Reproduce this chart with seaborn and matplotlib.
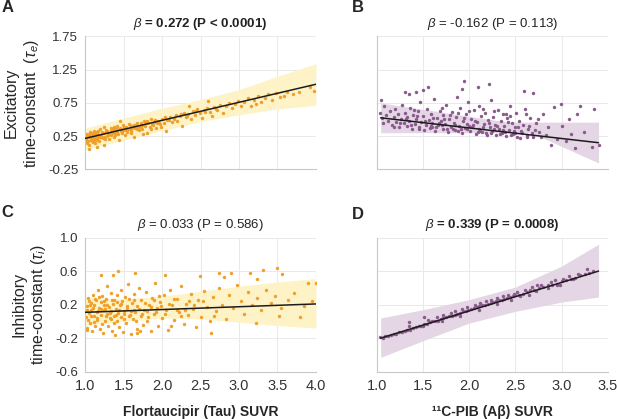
import numpy as np
import pandas as pd
import seaborn as sns
import matplotlib.pyplot as plt

# ---- panel A: tau SUVR vs excitatory time-constant ----
a_x = [1.01, 1.02, 1.03, 1.04, 1.05, 1.06, 1.07, 1.08, 1.09, 1.10, 1.11, 1.12, 1.13, 1.14, 1.15, 1.16, 1.17,
       1.18, 1.19, 1.20, 1.22, 1.23, 1.24, 1.25, 1.27, 1.28, 1.30, 1.31, 1.33, 1.34, 1.35, 1.37, 1.38, 1.40,
       1.41, 1.43, 1.44, 1.46, 1.47, 1.49, 1.50, 1.52, 1.53, 1.55, 1.57, 1.58, 1.60, 1.62, 1.63, 1.65, 1.67,
       1.69, 1.70, 1.72, 1.74, 1.76, 1.78, 1.80, 1.82, 1.84, 1.86, 1.88, 1.90, 1.92, 1.95, 1.97, 2.00, 2.02,
       2.05, 2.07, 2.10, 2.13, 2.15, 2.18, 2.20, 2.23, 2.26, 2.28, 2.31, 2.34, 2.37, 2.40, 2.43, 2.46, 2.49,
       2.52, 2.55, 2.58, 2.62, 2.65, 2.68, 2.72, 2.75, 2.79, 2.83, 2.87, 2.91, 2.95, 2.99, 3.03, 3.07, 3.12,
       3.16, 3.20, 3.25, 3.29, 3.34, 3.38, 3.43, 3.48, 3.53, 3.58, 3.62, 3.70, 3.78, 3.92, 3.97, 1.05, 1.15,
       1.25, 1.45, 1.75, 2.35, 2.60, 3.22, 1.02, 1.04, 1.06, 1.08, 1.10, 1.12, 1.14, 1.16, 1.18, 1.21, 1.26,
       1.29, 1.32, 1.36, 1.39, 1.42, 1.48, 1.54, 1.59, 1.64, 1.68, 1.73, 1.79, 1.85, 1.93, 1.98,
       1.01, 1.03, 1.05, 1.07, 1.09, 1.11, 1.13, 1.15, 1.17, 1.19, 1.22, 1.24, 1.27, 1.30, 1.33, 1.36, 1.39,
       1.42, 1.45, 1.48, 1.51, 1.55, 1.58, 1.61, 1.65, 1.69, 1.73, 1.77, 1.81, 1.87, 1.91, 1.96, 2.04, 2.09,
       2.16, 2.24, 2.32, 2.44, 2.56, 2.70]
a_y = [0.20, 0.15, 0.28, 0.23, 0.12, 0.31, 0.19, 0.25, 0.17, 0.29, 0.22, 0.33, 0.14, 0.26, 0.21, 0.30, 0.24,
       0.18, 0.35, 0.27, 0.31, 0.22, 0.11, 0.29, 0.34, 0.25, 0.30, 0.20, 0.37, 0.27, 0.32, 0.24, 0.39, 0.30,
       0.35, 0.28, 0.19, 0.36, 0.32, 0.41, 0.34, 0.27, 0.38, 0.31, 0.43, 0.36, 0.33, 0.40, 0.23, 0.37, 0.45,
       0.39, 0.34, 0.42, 0.36, 0.47, 0.40, 0.30, 0.44, 0.39, 0.50, 0.42, 0.46, 0.37, 0.48, 0.43, 0.51, 0.45,
       0.33, 0.49, 0.54, 0.46, 0.52, 0.57, 0.48, 0.55, 0.40, 0.60, 0.53, 0.58, 0.50, 0.62, 0.56, 0.66, 0.59,
       0.52, 0.64, 0.68, 0.61, 0.55, 0.69, 0.65, 0.72, 0.60, 0.70, 0.75, 0.67, 0.73, 0.78, 0.70, 0.76, 0.82,
       0.71, 0.80, 0.85, 0.77, 0.83, 0.88, 0.80, 0.90, 0.84, 0.86, 0.92, 0.88, 0.91, 0.99, 0.93, 0.05, 0.08,
       0.38, 0.47, 0.28, 0.70, 0.78, 0.73, 0.26, 0.18, 0.24, 0.30, 0.16, 0.23, 0.31, 0.19, 0.27, 0.24, 0.20,
       0.33, 0.28, 0.35, 0.26, 0.40, 0.29, 0.35, 0.30, 0.41, 0.35, 0.38, 0.45, 0.35, 0.44, 0.39,
       0.25, 0.17, 0.27, 0.21, 0.28, 0.19, 0.29, 0.22, 0.32, 0.23, 0.30, 0.24, 0.31, 0.26, 0.33, 0.29, 0.36,
       0.31, 0.37, 0.33, 0.39, 0.34, 0.41, 0.37, 0.42, 0.38, 0.44, 0.41, 0.47, 0.43, 0.49, 0.45, 0.53, 0.49,
       0.50, 0.58, 0.55, 0.63, 0.61, 0.66]
a_line_x = [1.0, 4.0]
a_line_y = [0.215, 1.03]
a_band_x = [1.0, 1.5, 2.0, 2.5, 3.0, 3.5, 4.0]
a_band_lo = [0.045, 0.19, 0.33, 0.47, 0.57, 0.66, 0.71]
a_band_hi = [0.37, 0.52, 0.67, 0.80, 0.95, 1.15, 1.34]

# ---- panel B: PIB SUVR vs excitatory time-constant ----
b_x = [1.03, 1.05, 1.06, 1.08, 1.10, 1.12, 1.14, 1.16, 1.18, 1.20, 1.21, 1.23, 1.24, 1.26, 1.27, 1.29, 1.30,
       1.32, 1.33, 1.35, 1.36, 1.38, 1.39, 1.41, 1.42, 1.44, 1.45, 1.47, 1.48, 1.50, 1.51, 1.53, 1.54, 1.56,
       1.57, 1.59, 1.60, 1.62, 1.63, 1.65, 1.66, 1.68, 1.69, 1.71, 1.72, 1.74, 1.75, 1.77, 1.78, 1.80, 1.81,
       1.83, 1.84, 1.86, 1.87, 1.89, 1.90, 1.92, 1.93, 1.95, 1.96, 1.98, 1.99, 2.01, 2.02, 2.04, 2.05, 2.07,
       2.08, 2.10, 2.11, 2.13, 2.14, 2.16, 2.17, 2.19, 2.20, 2.22, 2.23, 2.25, 2.26, 2.28, 2.29, 2.31, 2.32,
       2.34, 2.35, 2.37, 2.38, 2.40, 2.41, 2.43, 2.44, 2.46, 2.47, 2.49, 2.51, 2.52, 2.54, 2.56, 2.58, 2.60,
       2.62, 2.64, 2.66, 2.69, 2.72, 2.75, 2.80, 2.83, 1.04, 1.55, 1.50, 1.94, 1.92, 2.21, 1.30, 1.35, 1.42,
       2.59, 2.69, 2.09, 2.99, 3.20, 3.35, 3.17, 2.92, 3.08, 3.24, 3.33, 3.14, 3.40, 2.88, 2.78, 2.85, 2.61,
       1.60, 1.70, 1.82, 1.88, 1.97, 2.03, 2.12, 2.18, 2.27, 2.33, 2.39, 2.45, 2.50, 2.55, 2.63, 2.68, 2.95,
       3.05, 3.00, 3.10,
       1.25, 1.31, 1.37, 1.43, 1.46, 1.52, 1.58, 1.61, 1.64, 1.67, 1.73, 1.76, 1.79, 1.85, 1.91, 1.94, 2.00,
       2.06, 2.09, 2.15, 2.21, 2.24, 2.30, 2.36, 2.42, 2.48, 2.53, 2.57, 2.65, 2.71, 1.18, 1.40, 1.70, 2.00,
       2.27, 2.44, 2.74, 1.88, 2.15, 2.40]
b_y = [0.60, 0.52, 0.45, 0.70, 0.56, 0.48, 0.62, 0.41, 0.54, 0.66, 0.46, 0.58, 0.38, 0.51, 0.72, 0.44, 0.60,
       0.40, 0.53, 0.47, 0.68, 0.36, 0.57, 0.43, 0.50, 0.62, 0.39, 0.76, 0.46, 0.55, 0.34, 0.42, 0.66, 0.49,
       0.37, 0.58, 0.44, 0.81, 0.33, 0.52, 0.41, 0.63, 0.47, 0.36, 0.56, 0.43, 0.72, 0.31, 0.50, 0.39, 0.61,
       0.45, 0.34, 0.53, 0.84, 0.40, 0.68, 0.30, 0.48, 0.37, 0.58, 0.43, 0.76, 0.33, 0.51, 0.41, 0.64, 0.28,
       0.46, 0.36, 0.70, 0.55, 0.31, 0.43, 0.60, 0.27, 0.49, 0.38, 0.80, 0.33, 0.54, 0.42, 0.26, 0.65, 0.36,
       0.47, 0.30, 0.58, 0.40, 0.25, 0.52, 0.34, 0.71, 0.44, 0.28, 0.38, 0.60, 0.24, 0.47, 0.32, 0.41, 0.66,
       0.27, 0.36, 0.52, 0.23, 0.44, 0.31, 0.58, 0.27, 0.80, 0.985, 0.95, 1.075, 0.96, 1.04, 0.91, 0.89, 0.91,
       0.925, 0.895, 0.985, 0.735, 0.71, 0.66, 0.585, 0.685, 0.51, 0.31, 0.085, 0.075, 0.11, 0.11, 0.235,
       0.385, 0.585, 0.38, 0.42, 0.36, 0.32, 0.35, 0.39, 0.33, 0.30, 0.35, 0.28, 0.31, 0.26, 0.30, 0.22,
       0.24, 0.29, 0.20, 0.18, 0.40, 0.28,
       0.45, 0.50, 0.42, 0.55, 0.35, 0.48, 0.40, 0.52, 0.38, 0.45, 0.50, 0.35, 0.57, 0.42, 0.36, 0.52, 0.40,
       0.47, 0.31, 0.39, 0.44, 0.29, 0.40, 0.34, 0.46, 0.33, 0.38, 0.29, 0.40, 0.34, 0.38, 0.64, 0.68, 0.62,
       0.62, 0.55, 0.50, 0.60, 0.66, 0.58]
b_line_x = [1.04, 3.40]
b_line_y = [0.525, 0.15]
b_band_x = [1.04, 1.5, 2.0, 2.42, 2.67, 3.0, 3.4]
b_band_lo = [0.30, 0.30, 0.30, 0.30, 0.30, 0.095, -0.155]
b_band_hi = [0.75, 0.653, 0.548, 0.46, 0.46, 0.46, 0.46]

# ---- panel C: tau SUVR vs inhibitory time-constant ----
c_x = [1.01, 1.02, 1.03, 1.04, 1.05, 1.06, 1.07, 1.08, 1.09, 1.10, 1.11, 1.12, 1.13, 1.14, 1.15, 1.16, 1.17,
       1.18, 1.19, 1.20, 1.21, 1.22, 1.23, 1.24, 1.25, 1.26, 1.27, 1.28, 1.29, 1.30, 1.31, 1.32, 1.33, 1.34,
       1.35, 1.36, 1.37, 1.38, 1.39, 1.40, 1.41, 1.42, 1.43, 1.44, 1.45, 1.46, 1.47, 1.48, 1.49, 1.50, 1.52,
       1.53, 1.55, 1.56, 1.58, 1.59, 1.61, 1.62, 1.64, 1.65, 1.67, 1.68, 1.70, 1.72, 1.73, 1.75, 1.77, 1.79,
       1.81, 1.83, 1.85, 1.87, 1.89, 1.91, 1.93, 1.95, 1.97, 2.00, 2.02, 2.05, 2.08, 2.10, 2.13, 2.16, 2.19,
       2.22, 2.25, 2.28, 2.31, 2.34, 2.37, 2.40, 2.44, 2.47, 2.51, 2.55, 2.58, 2.62, 2.66, 2.70, 2.74, 2.78,
       2.83, 2.87, 2.92, 2.97, 3.02, 3.07, 3.12, 3.17, 3.23, 3.29, 3.35, 3.41, 3.47, 3.55, 3.64, 3.72, 3.85,
       3.95, 1.43, 1.645, 2.035, 2.74, 3.31, 3.50, 2.90, 3.14, 3.56, 1.21, 1.36, 2.49, 2.81, 3.24, 3.90, 4.00,
       2.64, 1.67, 1.02, 3.79, 3.22, 3.52, 1.05, 1.12, 1.18, 1.26, 1.34, 1.41, 1.51, 1.57, 1.63, 1.71, 1.80,
       1.90, 1.99, 2.12, 2.20, 2.35,
       1.02, 1.04, 1.06, 1.08, 1.10, 1.13, 1.15, 1.17, 1.20, 1.22, 1.24, 1.27, 1.29, 1.32, 1.35, 1.37, 1.40,
       1.44, 1.47, 1.50, 1.54, 1.57, 1.60, 1.63, 1.66, 1.70, 1.74, 1.78, 1.82, 1.86, 1.92, 1.96, 2.04, 2.09,
       2.15, 2.24, 2.30, 2.42, 2.53, 2.68]
c_y = [0.05, 0.18, -0.08, 0.28, 0.10, -0.02, 0.22, 0.14, -0.12, 0.32, 0.06, 0.19, -0.05, 0.25, 0.11, 0.02,
       0.37, 0.16, -0.09, 0.23, 0.08, 0.30, -0.14, 0.13, 0.20, 0.00, 0.27, 0.09, 0.42, -0.06, 0.17, 0.04, 0.34,
       0.12, -0.11, 0.21, 0.07, 0.26, -0.16, 0.15, 0.01, 0.31, 0.10, -0.07, 0.19, 0.38, 0.05, 0.24, -0.13,
       0.12, 0.29, -0.02, 0.16, 0.45, 0.08, -0.15, 0.22, 0.03, 0.33, 0.11, -0.09, 0.18, 0.40, 0.06, 0.26,
       -0.04, 0.14, 0.35, 0.00, 0.20, -0.12, 0.28, 0.09, 0.46, 0.16, -0.06, 0.23, 0.04, 0.31, 0.13, -0.10,
       0.37, 0.19, 0.02, 0.27, 0.11, 0.42, -0.03, 0.21, 0.08, 0.33, 0.15, -0.07, 0.26, 0.05, 0.36, 0.17, 0.01,
       0.29, 0.12, 0.40, 0.20, 0.03, 0.31, 0.16, 0.44, 0.24, 0.09, 0.35, 0.19, 0.28, 0.13, 0.38, 0.22, 0.30,
       0.16, 0.25, 0.34, 0.18, 0.24, 0.606, 0.575, 0.555, 0.575, 0.614, 0.638, 0.575, 0.575, 0.57, 0.555,
       0.555, 0.54, 0.53, 0.51, 0.455, 0.455, -0.14, -0.14, -0.10, 0.057, -0.02, 0.06, 0.24, -0.01, 0.29,
       0.15, 0.03, 0.23, 0.09, 0.27, 0.14, -0.12, 0.12, 0.25, 0.18, -0.05, 0.14, 0.24,
       0.13, 0.02, 0.20, 0.07, 0.16, 0.27, 0.04, 0.12, 0.15, -0.03, 0.24, 0.06, 0.19, 0.10, 0.26, -0.02, 0.08,
       0.14, 0.21, 0.03, 0.18, 0.06, 0.12, 0.25, 0.00, 0.15, 0.09, 0.22, 0.05, 0.17, 0.11, 0.30, 0.09, 0.21,
       0.27, 0.07, 0.13, 0.20, 0.24, 0.06]
c_line_x = [1.0, 4.0]
c_line_y = [0.108, 0.208]
c_band_x = [1.0, 1.5, 2.0, 2.5, 3.0, 3.5, 4.0]
c_band_lo = [-0.05, 0.0, 0.04, 0.03, -0.01, -0.05, -0.08]
c_band_hi = [0.28, 0.27, 0.30, 0.36, 0.42, 0.47, 0.51]

# ---- panel D: PIB SUVR vs inhibitory time-constant ----
d_x = [1.03, 1.06, 1.09, 1.12, 1.15, 1.18, 1.21, 1.24, 1.27, 1.30, 1.33, 1.36, 1.39, 1.42, 1.45, 1.48, 1.51,
       1.54, 1.57, 1.60, 1.63, 1.66, 1.69, 1.72, 1.75, 1.78, 1.81, 1.84, 1.87, 1.90, 1.93, 1.96, 1.99, 2.02,
       2.05, 2.08, 2.11, 2.14, 2.17, 2.20, 2.23, 2.26, 2.29, 2.32, 2.35, 2.38, 2.41, 2.44, 2.47, 2.50, 2.54,
       2.58, 2.62, 2.66, 2.70, 2.75, 2.80, 2.85, 2.90, 2.95, 3.00, 3.05, 3.10, 3.15, 3.20, 3.25, 3.30, 3.34,
       1.35, 1.55, 1.65, 1.72, 1.80, 1.85, 1.92, 1.98, 2.06, 2.12, 2.18, 2.24, 2.30, 2.36, 2.42, 2.48, 2.52,
       2.60, 2.68, 2.73, 2.78, 2.88, 2.93, 3.02, 3.08, 3.12, 3.18, 3.28, 2.65, 2.85, 2.98, 1.50, 1.70, 1.90,
       2.10, 2.30, 2.45, 2.55, 2.72, 2.95, 1.35, 1.51]
d_y = [-0.19, -0.20, -0.18, -0.17, -0.16, -0.15, -0.15, -0.13, -0.13, -0.11, -0.10, -0.10, -0.08, -0.07,
       -0.05, -0.05, -0.03, -0.03, -0.01, 0.00, 0.01, 0.01, 0.03, 0.04, 0.05, 0.06, 0.07, 0.08, 0.09, 0.10,
       0.12, 0.12, 0.14, 0.15, 0.16, 0.17, 0.18, 0.19, 0.20, 0.21, 0.22, 0.23, 0.24, 0.25, 0.26, 0.27, 0.28,
       0.29, 0.30, 0.31, 0.32, 0.33, 0.35, 0.37, 0.38, 0.40, 0.41, 0.43, 0.44, 0.45, 0.48, 0.49, 0.51, 0.52,
       0.55, 0.56, 0.58, 0.60, -0.06, 0.02, 0.05, 0.08, 0.10, 0.12, 0.15, 0.17, 0.20, 0.22, 0.24, 0.26, 0.28,
       0.30, 0.31, 0.33, 0.35, 0.38, 0.41, 0.44, 0.43, 0.47, 0.49, 0.51, 0.54, 0.50, 0.57, 0.62, 0.32, 0.40,
       0.44, -0.06, 0.01, 0.07, 0.14, 0.21, 0.26, 0.30, 0.36, 0.43, -0.01, 0.05]
d_line_x = [1.04, 3.40]
d_line_y = [-0.20, 0.60]
d_band_x = [1.04, 1.5, 2.0, 2.5, 3.0, 3.4]
d_band_lo = [-0.43, -0.23, -0.02, 0.12, 0.23, 0.29]
d_band_hi = [0.04, 0.14, 0.26, 0.41, 0.66, 0.92]

orange = "#F0A02A"
yellow = "#FDF3C6"
purple = "#8A5A8C"
lilac = "#E4D6E4"

sns.set_style("white")
plt.rcParams['font.family'] = ['Liberation Sans', 'DejaVu Sans']
plt.rcParams['mathtext.fontset'] = 'custom'
plt.rcParams['mathtext.rm'] = 'Liberation Sans'
plt.rcParams['mathtext.it'] = 'Liberation Sans:italic'
plt.rcParams['mathtext.bf'] = 'Liberation Sans:bold'

fig = plt.figure(figsize=(6.17, 4.19), dpi=100)
axA = fig.add_axes([0.138, 0.596, 0.374, 0.317])
axB = fig.add_axes([0.611, 0.596, 0.374, 0.317])
axC = fig.add_axes([0.138, 0.113, 0.374, 0.320])
axD = fig.add_axes([0.611, 0.113, 0.374, 0.320])

panels = [
    (axA, a_x, a_y, a_line_x, a_line_y, a_band_x, a_band_lo, a_band_hi, orange, yellow,
     r"$\mathit{\beta}$ = 0.272 (P < 0.0001)", "bold"),
    (axB, b_x, b_y, b_line_x, b_line_y, b_band_x, b_band_lo, b_band_hi, purple, lilac,
     r"$\mathit{\beta}$ = -0.162 (P = 0.113)", "normal"),
    (axC, c_x, c_y, c_line_x, c_line_y, c_band_x, c_band_lo, c_band_hi, orange, yellow,
     r"$\mathit{\beta}$ = 0.033 (P = 0.586)", "normal"),
    (axD, d_x, d_y, d_line_x, d_line_y, d_band_x, d_band_lo, d_band_hi, purple, lilac,
     r"$\mathit{\beta}$ = 0.339 (P = 0.0008)", "bold"),
]

for ax, px, py, lx, ly, bx, blo, bhi, pc, bc, title, weight in panels:
    ax.fill_between(bx, blo, bhi, color=bc, linewidth=0, zorder=1)
    df = pd.DataFrame({"x": px, "y": py})
    sns.scatterplot(data=df, x="x", y="y", ax=ax, color=pc, s=6, linewidth=0, zorder=2)
    sns.lineplot(x=lx, y=ly, ax=ax, color="#1c1c1c", linewidth=1.1, zorder=3)
    ax.set_title(title, fontsize=9.5, fontweight=weight, pad=7, color="#222222")
    ax.grid(True, color="#e9e9e9", linewidth=0.7)
    ax.set_axisbelow(True)
    for s in ["top", "right"]:
        ax.spines[s].set_visible(False)
    for s in ["left", "bottom"]:
        ax.spines[s].set_color("#c8c8c8")
        ax.spines[s].set_linewidth(0.8)
    ax.tick_params(length=3, width=0.7, color="#b0b0b0", labelsize=9.5, labelcolor="#333333", pad=2)
    ax.set_xlabel("")
    ax.set_ylabel("")

# axis limits and ticks
for ax in [axA, axC]:
    ax.set_xlim(1.0, 4.0)
    ax.set_xticks([1.0, 1.5, 2.0, 2.5, 3.0, 3.5, 4.0])
for ax in [axB, axD]:
    ax.set_xlim(1.0, 3.5)
    ax.set_xticks([1.0, 1.5, 2.0, 2.5, 3.0, 3.5])
for ax in [axA, axB]:
    ax.set_ylim(-0.25, 1.75)
    ax.set_yticks([-0.25, 0.25, 0.75, 1.25, 1.75])
    ax.set_xticklabels([])
for ax in [axC, axD]:
    ax.set_ylim(-0.6, 1.0)
    ax.set_yticks([-0.6, -0.2, 0.2, 0.6, 1.0])
    ax.set_xticklabels([f"{t:.1f}" for t in ax.get_xticks()], fontsize=10.5)
axA.set_yticklabels([f"{t:.2f}" for t in axA.get_yticks()])
axC.set_yticklabels([f"{t:.1f}" for t in axC.get_yticks()])
axB.set_yticklabels([])
axD.set_yticklabels([])

axA.set_ylabel("Excitatory\ntime-constant  ($\\tau_e$)", fontsize=11.5, labelpad=5)
axC.set_ylabel("Inhibitory\ntime-constant ($\\tau_i$)", fontsize=11.5, labelpad=5)
axC.set_xlabel("Flortaucipir (Tau) SUVR", fontsize=10, fontweight="bold", labelpad=9)
axD.set_xlabel("¹¹C-PIB (Aβ) SUVR", fontsize=10, fontweight="bold", labelpad=9)

# panel letters
fig.text(0.003, 0.983, "A", fontsize=12, fontweight="bold", va="center")
fig.text(0.570, 0.983, "B", fontsize=12, fontweight="bold", va="center")
fig.text(0.003, 0.492, "C", fontsize=12, fontweight="bold", va="center")
fig.text(0.570, 0.487, "D", fontsize=12, fontweight="bold", va="center")

fig.savefig("out.png", dpi=100)
